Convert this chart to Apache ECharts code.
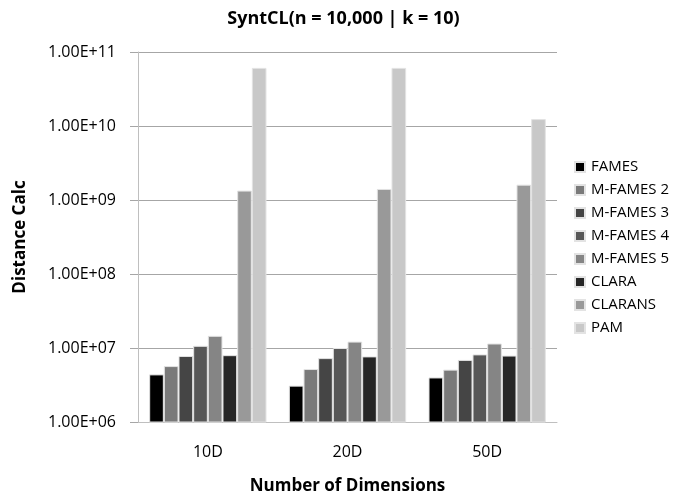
<!DOCTYPE html>
<html>
<head>
<meta charset="utf-8">
<script src="https://cdn.jsdelivr.net/npm/echarts@6/dist/echarts.min.js"></script>
<style>
  html, body { margin: 0; padding: 0; background: #fff; }
  #chart { width: 687px; height: 500px; }
</style>
</head>
<body>
<div id="chart"></div>
<script>
// 数据
const categories = ['10D', '20D', '50D']
const seriesNames = ['FAMES', 'M-FAMES 2', 'M-FAMES 3', 'M-FAMES 4', 'M-FAMES 5', 'CLARA', 'CLARANS', 'PAM']
const fames = [4.4e6, 3.1e6, 4.0e6]
const mFames2 = [5.7e6, 5.2e6, 5.1e6]
const mFames3 = [7.8e6, 7.3e6, 6.9e6]
const mFames4 = [1.07e7, 1.0e7, 8.2e6]
const mFames5 = [1.46e7, 1.22e7, 1.15e7]
const clara = [8.0e6, 7.7e6, 7.9e6]
const clarans = [1.34e9, 1.41e9, 1.61e9]
const pam = [6.1e10, 6.1e10, 1.24e10]
const yTicks = [1e6, 1e7, 1e8, 1e9, 1e10, 1e11]

const seriesData = [fames, mFames2, mFames3, mFames4, mFames5, clara, clarans, pam]
const colors = ['#000000', '#7a7a7a', '#454545', '#575757', '#858585', '#262626', '#999999', '#c8c8c8']

const font = 'Open Sans'

const myChart = echarts.init(document.getElementById('chart'))

const option = {
  animation: false,
  color: colors,
  title: {
    text: 'SyntCL(n = 10,000 | k = 10)',
    left: 'center',
    top: 5,
    textStyle: { fontFamily: font, fontSize: 18, fontWeight: 'bold', color: '#000' }
  },
  legend: {
    orient: 'vertical',
    left: 569,
    top: 153,
    itemWidth: 10,
    itemHeight: 10,
    itemGap: 5,
    icon: 'rect',
    data: seriesNames,
    textStyle: { fontFamily: font, fontSize: 15, color: '#000', lineHeight: 18, padding: [0, 0, 0, 1] }
  },
  grid: { left: 138, right: 130, top: 52, bottom: 78 },
  xAxis: {
    type: 'category',
    data: categories,
    name: 'Number of Dimensions',
    nameLocation: 'middle',
    nameGap: 56,
    nameTextStyle: { fontFamily: font, fontSize: 17, fontWeight: 'bold', color: '#000' },
    axisLine: { lineStyle: { color: '#bfbfbf', width: 1 } },
    axisTick: { show: false },
    axisLabel: { fontFamily: font, fontSize: 16, color: '#000', margin: 22 }
  },
  yAxis: {
    type: 'log',
    logBase: 10,
    min: yTicks[0],
    max: yTicks[yTicks.length - 1],
    name: 'Distance Calc',
    nameLocation: 'middle',
    nameGap: 109,
    nameTextStyle: { fontFamily: font, fontSize: 17, fontWeight: 'bold', color: '#000' },
    axisLine: { show: true, lineStyle: { color: '#bfbfbf', width: 1 } },
    axisTick: { show: true, length: 8, lineStyle: { color: '#a6a6a6' } },
    splitLine: { lineStyle: { color: '#a6a6a6', width: 1 } },
    axisLabel: {
      fontFamily: font, fontSize: 16, color: '#000', margin: 22,
      formatter: v => {
        const e = Math.round(Math.log10(v))
        return '1.00E+' + (e < 10 ? '0' + e : e)
      }
    }
  },
  series: seriesNames.map((name, i) => ({
    name: name,
    type: 'bar',
    data: seriesData[i],
    barGap: '0%',
    barCategoryGap: '16%',
    itemStyle: { color: colors[i], borderColor: '#e3e3e3', borderWidth: 1 }
  }))
}

myChart.setOption(option)

window.onresize = () => {
  myChart.resize()
}
</script>
</body>
</html>
